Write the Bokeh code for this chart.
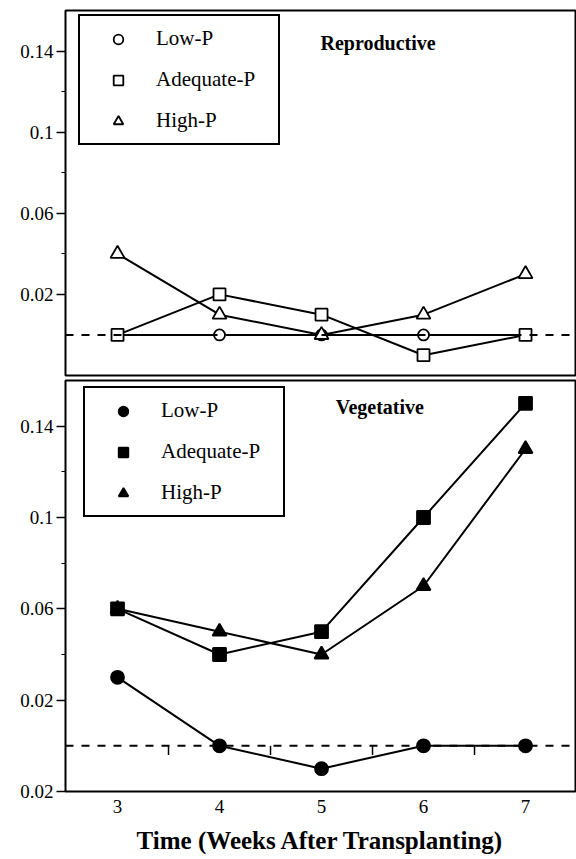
from bokeh.plotting import figure
from bokeh.layouts import column
from bokeh.models import Range1d, FixedTicker, Span, Legend, LegendItem, Label
from bokeh.embed import file_html
from bokeh.resources import INLINE

# ---------------- data ----------------
weeks = [3, 4, 5, 6, 7]
series_names = ["Low-P", "Adequate-P", "High-P"]

repro_low = [0, 0, 0, 0, 0]
repro_adequate = [0, 0.02, 0.01, -0.01, 0]
repro_high = [0.04, 0.01, 0, 0.01, 0.03]

veg_low = [0.03, 0, -0.01, 0, 0]
veg_adequate = [0.06, 0.04, 0.05, 0.10, 0.15]
veg_high = [0.06, 0.05, 0.04, 0.07, 0.13]

y_ticks_top = [0.02, 0.06, 0.1, 0.14]
y_tick_labels_top = ["0.02", "0.06", "0.1", "0.14"]
y_ticks_bottom = [-0.02, 0.02, 0.06, 0.1, 0.14]
y_tick_labels_bottom = ["0.02", "0.02", "0.06", "0.1", "0.14"]
y_minor_ticks = [0.04, 0.08, 0.12]
baseline = 0

panel_titles = ["Reproductive", "Vegetative"]
x_axis_title = "Time (Weeks After Transplanting)"

FONT = "Liberation Serif"
X_RANGE = (2.49, 7.49)


def base_figure(height, top, bottom, xaxis):
    p = figure(width=576, height=height, output_backend="svg", toolbar_location=None,
               x_range=Range1d(*X_RANGE), y_range=Range1d(-0.02, 0.16),
               x_axis_location="below" if xaxis else None,
               min_border_left=65, min_border_right=1, min_border_top=top,
               min_border_bottom=bottom, tools="")
    p.xgrid.visible = False
    p.ygrid.visible = False
    p.outline_line_color = "black"
    p.outline_line_width = 2
    p.outline_line_alpha = 1
    p.background_fill_color = "white"
    p.border_fill_color = "white"
    ya = p.yaxis[0]
    ya.axis_line_color = None
    ya.major_tick_out = 9
    ya.major_tick_in = 0
    ya.minor_tick_out = 4
    ya.minor_tick_in = 0
    ya.major_tick_line_width = 1.5
    ya.minor_tick_line_width = 1.2
    ya.major_label_standoff = 3
    ya.major_label_text_font = FONT
    ya.major_label_text_font_size = "19px"
    ya.major_label_text_color = "black"
    return p


MARKERS = {0: "circle", 1: "square", 2: "triangle"}


def add_series(p, ys_list, filled):
    sizes = {0: 13 if filled else 11, 1: 13 if filled else 12, 2: 14}
    for ys in ys_list:
        p.line(weeks, ys, line_color="black", line_width=2)
    renderers = {}
    for idx in [0, 2, 1]:  # adequate drawn last (on top)
        renderers[idx] = p.scatter(weeks, ys_list[idx], marker=MARKERS[idx], size=sizes[idx],
                                   fill_color="black" if filled else "white",
                                   line_color="black", line_width=1.8)
    return [renderers[i] for i in range(3)]


def add_legend(p, renderers, loc):
    legend = Legend(items=[LegendItem(label=n, renderers=[r]) for n, r in zip(series_names, renderers)],
                    location=loc, orientation="vertical", margin=0,
                    border_line_color="black", border_line_width=2, border_line_alpha=1,
                    background_fill_color="white", background_fill_alpha=1,
                    padding=10, spacing=16, glyph_height=24, glyph_width=56,
                    label_height=24, label_standoff=10, label_width=112,
                    label_text_font=FONT, label_text_font_size="21px",
                    label_text_color="black")
    p.add_layout(legend)


# ---------------- top panel: Reproductive ----------------
p1 = base_figure(377, 10, 2, False)
p1.yaxis[0].ticker = FixedTicker(ticks=y_ticks_top, minor_ticks=y_minor_ticks)
p1.yaxis[0].major_label_overrides = dict(zip(y_ticks_top, y_tick_labels_top))
p1.add_layout(Span(location=baseline, dimension="width", line_color="black",
                   line_width=2, line_dash="8 8"))
r1 = add_series(p1, [repro_low, repro_adequate, repro_high], filled=False)
add_legend(p1, r1, (13, 230))
p1.add_layout(Label(x=4.99, y=0.144, text=panel_titles[0], text_font=FONT,
                    text_font_size="20px", text_font_style="bold",
                    text_baseline="middle", text_color="black"))

# ---------------- bottom panel: Vegetative ----------------
p2 = base_figure(482, 3, 68, True)
p2.yaxis[0].ticker = FixedTicker(ticks=y_ticks_bottom, minor_ticks=y_minor_ticks)
p2.yaxis[0].major_label_overrides = dict(zip(y_ticks_bottom, y_tick_labels_bottom))
p2.add_layout(Span(location=baseline, dimension="width", line_color="black",
                   line_width=2, line_dash="8 8"))
mids = [(a + b) / 2 for a, b in zip(weeks[:-1], weeks[1:])]
p2.segment(x0=mids, y0=[baseline] * len(mids), x1=mids, y1=[baseline - 0.004] * len(mids),
           line_color="black", line_width=1.5)
r2 = add_series(p2, [veg_low, veg_adequate, veg_high], filled=True)
add_legend(p2, r2, (18, 274))
p2.add_layout(Label(x=5.14, y=0.1486, text=panel_titles[1], text_font=FONT,
                    text_font_size="20px", text_font_style="bold",
                    text_baseline="middle", text_color="black"))

xa = p2.xaxis[0]
xa.ticker = FixedTicker(ticks=weeks, minor_ticks=[])
xa.axis_line_color = None
xa.major_tick_out = 0
xa.major_tick_in = 0
xa.minor_tick_out = 0
xa.minor_tick_in = 0
xa.major_label_standoff = 8
xa.major_label_text_font = FONT
xa.major_label_text_font_size = "19px"
xa.major_label_text_color = "black"
xa.axis_label = x_axis_title
xa.axis_label_text_font = FONT
xa.axis_label_text_font_size = "25px"
xa.axis_label_text_font_style = "bold"
xa.axis_label_text_color = "black"
xa.axis_label_standoff = 11

layout = column(p1, p2, spacing=0)
open("out.html", "w").write(file_html(layout, INLINE))
